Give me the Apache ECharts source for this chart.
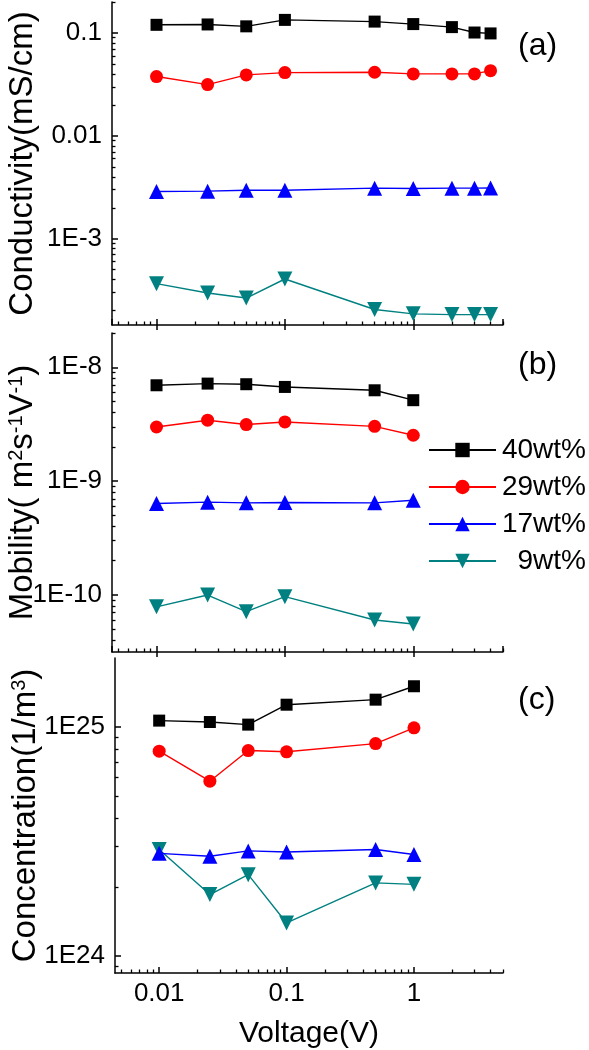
<!DOCTYPE html>
<html><head><meta charset="utf-8">
<script src="https://cdn.jsdelivr.net/npm/echarts@6/dist/echarts.min.js"></script>
<style>html,body{margin:0;padding:0;background:#fff}#c{width:589px;height:1050px}</style>
</head><body><div id="c"></div>
<script>
// ---- data ----
const voltageA = [0.01, 0.025, 0.05, 0.1, 0.5, 1, 2, 3, 4];
const voltageBC = [0.01, 0.025, 0.05, 0.1, 0.5, 1];
const seriesNames = ['40wt%', '29wt%', '17wt%', '9wt%'];

const cond40 = [0.120, 0.121, 0.116, 0.134, 0.129, 0.122, 0.114, 0.101, 0.099];
const cond29 = [0.0377, 0.0315, 0.0391, 0.0412, 0.0415, 0.0400, 0.0400, 0.0400, 0.0430];
const cond17 = [0.00288, 0.00290, 0.00296, 0.00296, 0.00310, 0.00308, 0.00310, 0.00310, 0.00311];
const cond9  = [3.66e-4, 2.97e-4, 2.65e-4, 4.06e-4, 2.05e-4, 1.86e-4, 1.83e-4, 1.83e-4, 1.83e-4];

const mob40 = [6.95e-9, 7.19e-9, 7.10e-9, 6.72e-9, 6.28e-9, 5.14e-9];
const mob29 = [2.99e-9, 3.43e-9, 3.14e-9, 3.31e-9, 3.03e-9, 2.53e-9];
const mob17 = [6.37e-10, 6.54e-10, 6.45e-10, 6.50e-10, 6.45e-10, 6.80e-10];
const mob9  = [7.88e-11, 1.00e-10, 7.14e-11, 9.67e-11, 6.04e-11, 5.57e-11];

const conc40 = [1.065e25, 1.05e25, 1.023e25, 1.25e25, 1.315e25, 1.505e25];
const conc29 = [7.83e24, 5.79e24, 7.88e24, 7.78e24, 8.45e24, 9.9e24];
const conc17 = [2.80e24, 2.72e24, 2.87e24, 2.84e24, 2.91e24, 2.77e24];
const conc9  = [2.91e24, 1.85e24, 2.26e24, 1.39e24, 2.08e24, 2.05e24];

const xTickLabels = {'-2': '0.01', '-1': '0.1', '0': '1'};
const xMajorTicks = [0.01, 0.1, 1];
const condTickLabels = {'-3': '1E-3', '-2': '0.01', '-1': '0.1'};
const mobTickLabels = {'-10': '1E-10', '-9': '1E-9', '-8': '1E-8'};
const concTickLabels = {'24': '1E24', '25': '1E25'};
const panelLabels = ['(a)', '(b)', '(c)'];

// ---- styling ----
const colors = ['#000000', '#ff0000', '#0000ff', '#008080'];
const symbols = ['rect', 'circle', 'triangle', 'triangle'];
const symbolSizes = [12, 13, 15, 15];
const symbolRotates = [0, 0, 0, 180];
const FONT = '"Liberation Sans", Arial, sans-serif';

function minorValues(e0, e1) {
  const out = [];
  for (let e = e0; e <= e1; e++) for (let k = 2; k <= 9; k++) out.push(k * Math.pow(10, e));
  return out;
}
function lookup(map) {
  return function (v) {
    const l = Math.log10(v), e = Math.round(l);
    if (Math.abs(l - e) > 1e-6) return '';
    return map[String(e)] || '';
  };
}

const grids = [
  {left: 112, top: 2, width: 391, height: 323},
  {left: 112, top: 333, width: 391, height: 319},
  {left: 115, top: 658, width: 388, height: 315}
].map(function (g) { g.containLabel = false; g.outerBoundsMode = 'none'; return g; });
const xRange = [0.0045, 5];
const yRanges = [[1.45e-4, 0.2], [3.16e-11, 2.0e-8], [8.4e23, 2.0e25]];
const yMinorExp = [[-4, -1], [-11, -8], [23, 25]];
const yLabelMaps = [condTickLabels, mobTickLabels, concTickLabels];
const yNames = [
  'Conductivity(mS/cm)',
  'Mobility( m{s|2}s{s|-1}V{s|-1})',
  'Concentration(1/m{s|3})'
];

const axisLineStyle = {color: '#000', width: 1.5};
const xAxes = [], yAxes = [];
for (let i = 0; i < 3; i++) {
  xAxes.push({
    type: 'log', logBase: 10, gridIndex: i, position: 'bottom',
    min: xRange[0], max: xRange[1],
    axisLine: {show: true, onZero: false, lineStyle: axisLineStyle},
    axisTick: {show: true, inside: true, length: 6, lineStyle: {color: '#000', width: 1.5}},
    axisLabel: {show: i === 2, color: '#000', fontSize: 26, fontFamily: FONT, margin: 8,
      showMinLabel: false, showMaxLabel: false, formatter: lookup(xTickLabels)},
    splitLine: {show: false},
    name: i === 2 ? 'Voltage(V)' : '', nameLocation: 'middle', nameGap: 46, nameMoveOverlap: false,
    nameTextStyle: {color: '#000', fontSize: 30, fontFamily: FONT}
  });
  yAxes.push({
    type: 'log', logBase: 10, gridIndex: i, position: 'left',
    min: yRanges[i][0], max: yRanges[i][1],
    axisLine: {show: true, onZero: false, lineStyle: axisLineStyle},
    axisTick: {show: true, inside: true, length: 6, lineStyle: {color: '#000', width: 1.5}},
    axisLabel: {show: true, color: '#000', fontSize: 26, fontFamily: FONT, margin: 10,
      showMinLabel: false, showMaxLabel: false, formatter: lookup(yLabelMaps[i])},
    splitLine: {show: false},
    name: yNames[i], nameLocation: 'middle', nameGap: 73, nameRotate: 90, nameMoveOverlap: false,
    nameTextStyle: {color: '#000', fontSize: 33, fontFamily: FONT,
      rich: {s: {fontSize: 20, verticalAlign: 'top', color: '#000', fontFamily: FONT}}}
  });
}
for (let i = 0; i < 3; i++) {
  xAxes.push({
    type: 'log', logBase: 10, gridIndex: i, position: 'bottom',
    min: xRange[0], max: xRange[1],
    axisLine: {show: false, onZero: false},
    axisTick: {show: true, inside: true, length: 3.5, customValues: minorValues(-3, 0),
      lineStyle: {color: '#000', width: 1.3}},
    axisLabel: {show: false}, splitLine: {show: false}
  });
  yAxes.push({
    type: 'log', logBase: 10, gridIndex: i, position: 'left',
    min: yRanges[i][0], max: yRanges[i][1],
    axisLine: {show: false, onZero: false},
    axisTick: {show: true, inside: true, length: 3.5, customValues: minorValues(yMinorExp[i][0], yMinorExp[i][1]),
      lineStyle: {color: '#000', width: 1.3}},
    axisLabel: {show: false}, splitLine: {show: false}
  });
}
// outward part of the major x ticks in panels (a) and (b)
for (let i = 0; i < 2; i++) {
  xAxes.push({
    type: 'log', logBase: 10, gridIndex: i, position: 'bottom',
    min: xRange[0], max: xRange[1],
    axisLine: {show: false, onZero: false},
    axisTick: {show: true, inside: false, length: 5, customValues: xMajorTicks,
      lineStyle: {color: '#000', width: 1.5}},
    axisLabel: {show: false}, splitLine: {show: false}
  });
}

const panelData = [
  [voltageA, [cond40, cond29, cond17, cond9]],
  [voltageBC, [mob40, mob29, mob17, mob9]],
  [voltageBC, [conc40, conc29, conc17, conc9]]
];
const series = [];
panelData.forEach(function (p, gi) {
  p[1].forEach(function (vals, si) {
    series.push({
      name: seriesNames[si], type: 'line', xAxisIndex: gi, yAxisIndex: gi,
      data: p[0].map(function (x, k) { return [x, vals[k]]; }),
      symbol: symbols[si], symbolSize: symbolSizes[si], symbolRotate: symbolRotates[si],
      showAllSymbol: true,
      lineStyle: {color: colors[si], width: 1.4},
      itemStyle: {color: colors[si], borderWidth: 0},
      z: 10 - si, animation: false
    });
  });
});

const titles = panelLabels.map(function (t, i) {
  return {text: t, left: 518, top: [30, 349, 684][i], padding: 0,
    textStyle: {color: '#000', fontSize: 32, fontWeight: 'normal', fontFamily: FONT}};
});

const chart = echarts.init(document.getElementById('c'), null, {renderer: 'canvas'});
chart.setOption({
  backgroundColor: '#fff',
  animation: false,
  title: titles,
  grid: grids,
  xAxis: xAxes,
  yAxis: yAxes,
  legend: {
    data: seriesNames, orient: 'vertical', left: 428, top: 436, padding: 0,
    itemWidth: 67, itemHeight: 18, itemGap: 9,
    formatter: function (n) { return '{r|' + n + '}'; },
    textStyle: {color: '#000', fontSize: 28, fontFamily: FONT,
      rich: {r: {width: 85, align: 'right', fontSize: 28, color: '#000', fontFamily: FONT}}}
  },
  series: series
});
</script></body></html>
